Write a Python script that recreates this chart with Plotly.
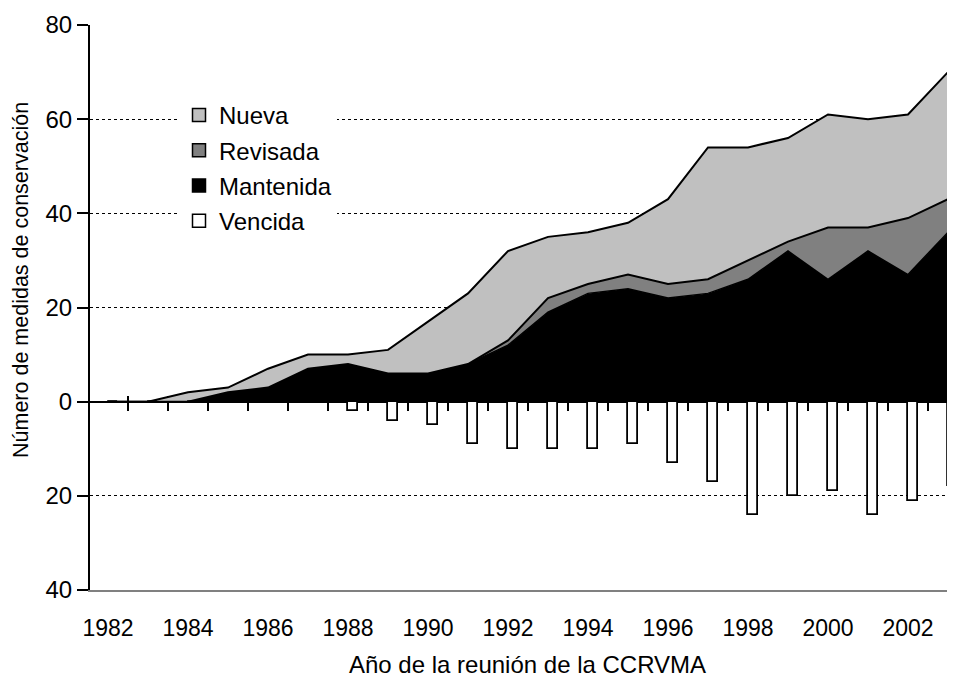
import plotly.graph_objects as go

years = list(range(1982, 2004))
mantenida = [0, 0, 0, 2, 3, 7, 8, 6, 6, 8, 12, 19, 23, 24, 22, 23, 26, 32, 26, 32, 27, 36]
revisada = [0, 0, 0, 0, 0, 0, 0, 0, 0, 0, 1, 3, 2, 3, 3, 3, 4, 2, 11, 5, 12, 7]
nueva = [0, 0, 2, 1, 4, 3, 2, 5, 11, 15, 19, 13, 11, 11, 18, 28, 24, 22, 24, 23, 22, 27]
vencida = [0, 0, 0, 0, 0, 0, 2, 4, 5, 9, 10, 10, 10, 9, 13, 17, 24, 20, 19, 24, 21, 18]

series_names = ["Nueva", "Revisada", "Mantenida", "Vencida"]
series_colors = ["#C0C0C0", "#808080", "#000000", "#FFFFFF"]

y_tickvals = [-40, -20, 0, 20, 40, 60, 80]
y_ticktext = ["40", "20", "0", "20", "40", "60", "80"]
grid_vals = [-20, 20, 40, 60]
x_label_years = list(range(1982, 2003, 2))

total = [m + r + n for m, r, n in zip(mantenida, revisada, nueva)]

FONT = "Liberation Sans, Arial, sans-serif"
XR = [1981.55, 2003.175]
YR = [-40, 80]

# page has an 8px body margin: figure is placed at (8, 8)
W, H = 947, 672
ML, MT, MB = 82, 17, 90
PW = W - ML
PH = H - MT - MB


def px_x(page_x):
    return (page_x - 8 - ML) / PW


def px_y(page_y):
    return (MT + PH - (page_y - 8)) / PH


fig = go.Figure()

fig.add_trace(go.Scatter(x=years, y=mantenida, stackgroup="a", mode="lines",
                         line=dict(color="black", width=1.5), fillcolor="#000000",
                         showlegend=False, hoverinfo="skip"))
fig.add_trace(go.Scatter(x=years, y=revisada, stackgroup="a", mode="lines",
                         line=dict(color="black", width=2), fillcolor="#808080",
                         showlegend=False, hoverinfo="skip"))
fig.add_trace(go.Scatter(x=years, y=nueva, stackgroup="a", mode="lines",
                         line=dict(color="black", width=2), fillcolor="#C0C0C0",
                         showlegend=False, hoverinfo="skip"))

fig.add_trace(go.Scatter(x=[years[-1], years[-1]], y=[0, total[-1]], mode="lines",
                         line=dict(color="black", width=2), yaxis="y2",
                         showlegend=False, hoverinfo="skip"))

fig.add_trace(go.Bar(x=years, y=[-v for v in vencida], xaxis="x2",
                     width=0.25, offset=0.0,
                     marker=dict(color="white", line=dict(color="black", width=1.8)),
                     showlegend=False, hoverinfo="skip"))

for i, (nm, col) in enumerate(zip(series_names, series_colors)):
    fig.add_trace(go.Scatter(x=[None], y=[None], mode="markers", name=nm,
                             legendgroup=f"g{i}",
                             marker=dict(symbol="square", size=13, color=col,
                                         line=dict(color="black", width=1.5))))

fig.update_layout(
    width=W, height=H,
    margin=dict(l=ML, r=0, t=MT, b=MB),
    paper_bgcolor="white", plot_bgcolor="white",
    font=dict(family=FONT, size=23, color="black"),
    showlegend=True,
    legend=dict(x=px_x(179), y=px_y(93), xanchor="left", yanchor="top",
                bgcolor="white", borderwidth=0, font=dict(size=24, family=FONT),
                tracegroupgap=1),
    xaxis=dict(range=XR, domain=[0, 1], anchor="y", tickvals=x_label_years,
               ticks="", showgrid=False, zeroline=False, showline=True,
               linecolor="#808080", linewidth=2, tickfont=dict(size=23),
               ticklabelstandoff=16),
    xaxis2=dict(range=XR, overlaying="x", anchor="free",
                position=(40 / 120) + 7 / PH,
                tickvals=[y + 0.5 for y in years[:-1]], ticks="outside", ticklen=15,
                tickwidth=2, tickcolor="black", showticklabels=False,
                showline=False, showgrid=False, zeroline=False, layer="below traces"),
    yaxis=dict(range=YR, domain=[0, 1], tickvals=y_tickvals, ticktext=y_ticktext,
               ticks="outside", ticklen=11, tickwidth=2, tickcolor="black",
               showline=True, linecolor="black", linewidth=2, showgrid=False,
               zeroline=True, zerolinecolor="black", zerolinewidth=2,
               tickfont=dict(size=24)),
    yaxis2=dict(range=YR, overlaying="y", tickvals=grid_vals, showgrid=True,
                gridcolor="black", griddash="dot", gridwidth=1,
                showticklabels=False, ticks="", showline=False, zeroline=False),
    bargap=0,
)

fig.add_annotation(text="Número de medidas de conservación", textangle=-90,
                   xref="paper", yref="paper", x=px_x(21), y=px_y(280),
                   xanchor="center", yanchor="middle", showarrow=False,
                   font=dict(size=21.5, family=FONT))
fig.add_annotation(text="Año de la reunión de la CCRVMA",
                   xref="paper", yref="paper", x=px_x(527), y=px_y(664),
                   xanchor="center", yanchor="middle", showarrow=False,
                   font=dict(size=24, family=FONT))

fig.write_html("out.html")
